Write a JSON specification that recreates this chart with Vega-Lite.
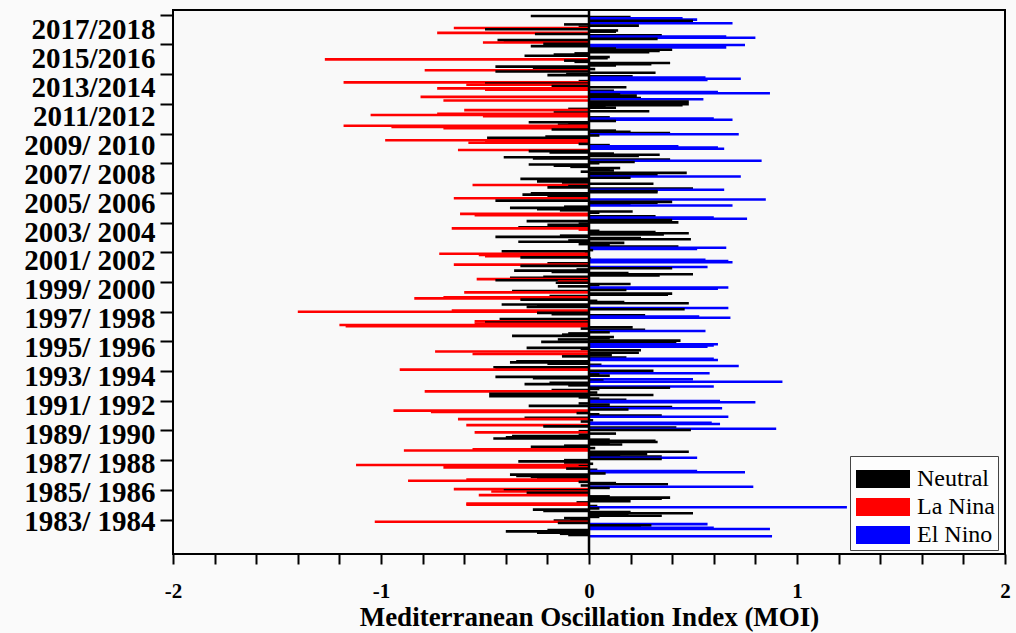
{
"$schema": "https://vega.github.io/schema/vega-lite/v6.json",
"width": 832, "height": 544,
"autosize": {"type": "none"},
"padding": {"left": 173, "top": 10, "right": 11, "bottom": 79},
"background": "#fafafa",
"config": {"view": {"stroke": "black", "strokeWidth": 2, "fill": "#f9f9f9"}, "font": "Liberation Serif"},
"data": {"values": [
{"i":431,"v":-0.28,"c":"Neutral"},{"i":430,"v":0.2,"c":"Neutral"},{"i":429,"v":0.45,"c":"El Nino"},{"i":428,"v":0.52,"c":"El Nino"},{"i":427,"v":0.5,"c":"Neutral"},{"i":426,"v":0.1,"c":"Neutral"},{"i":425,"v":0.69,"c":"El Nino"},{"i":424,"v":-0.12,"c":"Neutral"},{"i":423,"v":0.24,"c":"Neutral"},{"i":422,"v":-0.05,"c":"Neutral"},
{"i":421,"v":-0.65,"c":"La Nina"},{"i":420,"v":-0.5,"c":"Neutral"},{"i":419,"v":0.14,"c":"Neutral"},{"i":418,"v":0.13,"c":"Neutral"},{"i":417,"v":-0.73,"c":"La Nina"},{"i":416,"v":-0.26,"c":"Neutral"},{"i":415,"v":0.35,"c":"Neutral"},{"i":414,"v":0.66,"c":"El Nino"},{"i":413,"v":0.8,"c":"El Nino"},{"i":412,"v":0.33,"c":"Neutral"},
{"i":411,"v":-0.44,"c":"Neutral"},{"i":410,"v":-0.41,"c":"Neutral"},{"i":409,"v":-0.51,"c":"La Nina"},{"i":408,"v":-0.22,"c":"Neutral"},{"i":407,"v":0.75,"c":"El Nino"},{"i":406,"v":-0.28,"c":"Neutral"},{"i":405,"v":0.66,"c":"El Nino"},{"i":404,"v":0.13,"c":"Neutral"},{"i":403,"v":0.4,"c":"Neutral"},{"i":402,"v":0.34,"c":"Neutral"},
{"i":401,"v":0.29,"c":"Neutral"},{"i":400,"v":-0.07,"c":"Neutral"},{"i":399,"v":-0.17,"c":"Neutral"},{"i":398,"v":-0.31,"c":"Neutral"},{"i":397,"v":0.1,"c":"Neutral"},{"i":396,"v":0.09,"c":"Neutral"},{"i":395,"v":-1.27,"c":"La Nina"},{"i":394,"v":-0.12,"c":"Neutral"},{"i":393,"v":-0.07,"c":"Neutral"},{"i":392,"v":0.39,"c":"Neutral"},
{"i":391,"v":0.3,"c":"Neutral"},{"i":390,"v":0.13,"c":"Neutral"},{"i":389,"v":-0.45,"c":"Neutral"},{"i":388,"v":-0.27,"c":"Neutral"},{"i":387,"v":0.03,"c":"Neutral"},{"i":386,"v":-0.79,"c":"La Nina"},{"i":385,"v":-0.45,"c":"Neutral"},{"i":384,"v":0.32,"c":"Neutral"},{"i":383,"v":-0.11,"c":"Neutral"},{"i":382,"v":-0.2,"c":"Neutral"},
{"i":381,"v":0.21,"c":"Neutral"},{"i":380,"v":0.56,"c":"El Nino"},{"i":379,"v":0.73,"c":"El Nino"},{"i":378,"v":0.57,"c":"El Nino"},{"i":377,"v":-0.05,"c":"Neutral"},{"i":376,"v":-1.18,"c":"La Nina"},{"i":375,"v":-0.5,"c":"Neutral"},{"i":374,"v":-0.59,"c":"La Nina"},{"i":373,"v":-0.18,"c":"Neutral"},{"i":372,"v":0.18,"c":"Neutral"},
{"i":371,"v":-0.73,"c":"La Nina"},{"i":370,"v":-0.5,"c":"La Nina"},{"i":369,"v":0.12,"c":"Neutral"},{"i":368,"v":0.62,"c":"El Nino"},{"i":367,"v":0.87,"c":"El Nino"},{"i":366,"v":0.15,"c":"Neutral"},{"i":365,"v":0.23,"c":"Neutral"},{"i":364,"v":-0.81,"c":"La Nina"},{"i":363,"v":0.25,"c":"Neutral"},{"i":362,"v":0.55,"c":"El Nino"},
{"i":361,"v":-0.7,"c":"La Nina"},{"i":360,"v":0.48,"c":"Neutral"},{"i":359,"v":0.22,"c":"Neutral"},
{"i":358,"v":0.48,"c":"Neutral"},{"i":357,"v":0.45,"c":"Neutral"},{"i":356,"v":0.08,"c":"Neutral"},{"i":355,"v":0.13,"c":"Neutral"},{"i":354,"v":-0.1,"c":"Neutral"},{"i":353,"v":-0.6,"c":"La Nina"},{"i":352,"v":0.29,"c":"Neutral"},{"i":351,"v":-0.17,"c":"Neutral"},{"i":350,"v":-0.73,"c":"La Nina"},{"i":349,"v":-1.05,"c":"La Nina"},
{"i":348,"v":-0.51,"c":"La Nina"},{"i":347,"v":0.1,"c":"Neutral"},{"i":346,"v":0.6,"c":"El Nino"},{"i":345,"v":0.69,"c":"El Nino"},{"i":344,"v":0.13,"c":"Neutral"},{"i":343,"v":-0.29,"c":"Neutral"},{"i":342,"v":-0.1,"c":"Neutral"},{"i":341,"v":-0.15,"c":"Neutral"},{"i":340,"v":-1.18,"c":"La Nina"},{"i":339,"v":-0.95,"c":"La Nina"},
{"i":338,"v":-0.7,"c":"La Nina"},{"i":337,"v":-0.18,"c":"Neutral"},{"i":336,"v":0.13,"c":"Neutral"},{"i":335,"v":0.2,"c":"Neutral"},{"i":334,"v":0.39,"c":"Neutral"},{"i":333,"v":0.72,"c":"El Nino"},{"i":332,"v":0.05,"c":"Neutral"},{"i":331,"v":-0.21,"c":"Neutral"},{"i":330,"v":-0.49,"c":"Neutral"},{"i":329,"v":-0.36,"c":"Neutral"},
{"i":328,"v":-0.98,"c":"La Nina"},{"i":327,"v":-0.5,"c":"La Nina"},{"i":326,"v":-0.58,"c":"La Nina"},{"i":325,"v":-0.05,"c":"Neutral"},{"i":324,"v":0.1,"c":"Neutral"},{"i":323,"v":0.43,"c":"El Nino"},{"i":322,"v":0.62,"c":"El Nino"},{"i":321,"v":0.65,"c":"El Nino"},{"i":320,"v":-0.63,"c":"La Nina"},{"i":319,"v":-0.29,"c":"Neutral"},
{"i":318,"v":-0.19,"c":"Neutral"},{"i":317,"v":0.12,"c":"Neutral"},{"i":316,"v":0.34,"c":"Neutral"},{"i":315,"v":0.24,"c":"Neutral"},{"i":314,"v":-0.41,"c":"Neutral"},{"i":313,"v":-0.27,"c":"Neutral"},{"i":312,"v":0.39,"c":"Neutral"},{"i":311,"v":0.83,"c":"El Nino"},{"i":310,"v":0.22,"c":"Neutral"},{"i":309,"v":0.05,"c":"Neutral"},
{"i":308,"v":-0.29,"c":"Neutral"},{"i":307,"v":-0.17,"c":"Neutral"},{"i":306,"v":-0.09,"c":"Neutral"},{"i":305,"v":0.15,"c":"Neutral"},{"i":304,"v":0.1,"c":"Neutral"},{"i":303,"v":0.12,"c":"Neutral"},{"i":302,"v":-0.04,"c":"Neutral"},{"i":301,"v":0.47,"c":"Neutral"},{"i":300,"v":0.2,"c":"Neutral"},{"i":299,"v":0.33,"c":"Neutral"},
{"i":298,"v":0.73,"c":"El Nino"},{"i":297,"v":0.2,"c":"Neutral"},{"i":296,"v":-0.33,"c":"Neutral"},{"i":295,"v":-0.21,"c":"Neutral"},{"i":294,"v":-0.25,"c":"Neutral"},{"i":293,"v":-0.13,"c":"Neutral"},{"i":292,"v":0.31,"c":"Neutral"},{"i":291,"v":-0.56,"c":"La Nina"},{"i":290,"v":-0.1,"c":"Neutral"},{"i":289,"v":-0.2,"c":"Neutral"},
{"i":288,"v":0.5,"c":"Neutral"},{"i":287,"v":0.65,"c":"El Nino"},{"i":286,"v":0.33,"c":"Neutral"},
{"i":285,"v":0.33,"c":"Neutral"},{"i":284,"v":-0.28,"c":"Neutral"},{"i":283,"v":-0.32,"c":"Neutral"},{"i":282,"v":-0.2,"c":"Neutral"},{"i":281,"v":-0.1,"c":"Neutral"},{"i":280,"v":-0.65,"c":"La Nina"},{"i":279,"v":0.85,"c":"El Nino"},{"i":278,"v":-0.45,"c":"Neutral"},{"i":277,"v":0.4,"c":"Neutral"},{"i":276,"v":0.33,"c":"Neutral"},
{"i":275,"v":0.2,"c":"Neutral"},{"i":274,"v":0.69,"c":"El Nino"},{"i":273,"v":-0.12,"c":"Neutral"},{"i":272,"v":-0.38,"c":"Neutral"},{"i":271,"v":-0.25,"c":"Neutral"},{"i":270,"v":-0.14,"c":"Neutral"},{"i":269,"v":0.21,"c":"Neutral"},{"i":268,"v":0.05,"c":"Neutral"},{"i":267,"v":-0.62,"c":"La Nina"},{"i":266,"v":-0.55,"c":"La Nina"},
{"i":265,"v":0.32,"c":"Neutral"},{"i":264,"v":0.6,"c":"El Nino"},{"i":263,"v":0.76,"c":"El Nino"},{"i":262,"v":0.4,"c":"Neutral"},{"i":261,"v":-0.3,"c":"Neutral"},{"i":260,"v":0.43,"c":"Neutral"},{"i":259,"v":-0.05,"c":"Neutral"},{"i":258,"v":-0.2,"c":"Neutral"},{"i":257,"v":-0.11,"c":"Neutral"},{"i":256,"v":-0.34,"c":"Neutral"},
{"i":255,"v":-0.66,"c":"La Nina"},{"i":254,"v":-0.05,"c":"La Nina"},{"i":253,"v":0.05,"c":"Neutral"},{"i":252,"v":0.32,"c":"Neutral"},{"i":251,"v":0.48,"c":"Neutral"},{"i":250,"v":0.36,"c":"Neutral"},{"i":249,"v":-0.14,"c":"Neutral"},{"i":248,"v":-0.45,"c":"Neutral"},{"i":247,"v":0.25,"c":"Neutral"},{"i":246,"v":0.49,"c":"Neutral"},
{"i":245,"v":-0.1,"c":"Neutral"},{"i":244,"v":-0.34,"c":"Neutral"},{"i":243,"v":0.17,"c":"Neutral"},{"i":242,"v":-0.05,"c":"Neutral"},{"i":241,"v":0.1,"c":"Neutral"},{"i":240,"v":0.43,"c":"Neutral"},{"i":239,"v":0.66,"c":"El Nino"},{"i":238,"v":0.52,"c":"El Nino"},{"i":237,"v":0.02,"c":"Neutral"},{"i":236,"v":-0.42,"c":"Neutral"},
{"i":235,"v":-0.02,"c":"Neutral"},{"i":234,"v":-0.72,"c":"La Nina"},{"i":233,"v":-0.53,"c":"La Nina"},{"i":232,"v":-0.5,"c":"La Nina"},{"i":231,"v":-0.33,"c":"Neutral"},{"i":230,"v":0.01,"c":"Neutral"},{"i":229,"v":0.56,"c":"El Nino"},{"i":228,"v":0.67,"c":"El Nino"},{"i":227,"v":0.69,"c":"El Nino"},{"i":226,"v":-0.2,"c":"Neutral"},
{"i":225,"v":-0.65,"c":"La Nina"},{"i":224,"v":-0.33,"c":"Neutral"},{"i":223,"v":0.57,"c":"El Nino"},{"i":222,"v":0.4,"c":"Neutral"},{"i":221,"v":-0.06,"c":"Neutral"},{"i":220,"v":-0.36,"c":"Neutral"},{"i":219,"v":-0.18,"c":"Neutral"},{"i":218,"v":0.19,"c":"Neutral"},{"i":217,"v":0.5,"c":"Neutral"},{"i":216,"v":0.34,"c":"Neutral"},
{"i":215,"v":-0.22,"c":"Neutral"},{"i":214,"v":-0.38,"c":"Neutral"},{"i":213,"v":-0.54,"c":"La Nina"},
{"i":212,"v":-0.45,"c":"Neutral"},{"i":211,"v":-0.15,"c":"La Nina"},{"i":210,"v":-0.16,"c":"Neutral"},{"i":209,"v":0.2,"c":"Neutral"},{"i":208,"v":0.05,"c":"Neutral"},{"i":207,"v":-0.15,"c":"Neutral"},{"i":206,"v":0.67,"c":"El Nino"},{"i":205,"v":0.62,"c":"El Nino"},{"i":204,"v":0.18,"c":"Neutral"},{"i":203,"v":-0.37,"c":"Neutral"},
{"i":202,"v":-0.6,"c":"La Nina"},{"i":201,"v":0.4,"c":"Neutral"},{"i":200,"v":0.38,"c":"Neutral"},{"i":199,"v":-0.19,"c":"Neutral"},{"i":198,"v":-0.7,"c":"La Nina"},{"i":197,"v":-0.84,"c":"La Nina"},{"i":196,"v":-0.33,"c":"Neutral"},{"i":195,"v":0.04,"c":"Neutral"},{"i":194,"v":0.17,"c":"Neutral"},{"i":193,"v":0.48,"c":"Neutral"},
{"i":192,"v":-0.42,"c":"Neutral"},{"i":191,"v":-0.25,"c":"Neutral"},{"i":190,"v":-0.3,"c":"Neutral"},{"i":189,"v":0.67,"c":"El Nino"},{"i":188,"v":0.46,"c":"Neutral"},{"i":187,"v":-0.66,"c":"La Nina"},{"i":186,"v":-1.4,"c":"La Nina"},{"i":185,"v":-0.25,"c":"Neutral"},{"i":184,"v":-0.18,"c":"Neutral"},{"i":183,"v":0.27,"c":"Neutral"},
{"i":182,"v":0.53,"c":"El Nino"},{"i":181,"v":0.68,"c":"El Nino"},{"i":180,"v":-0.43,"c":"Neutral"},{"i":179,"v":-0.06,"c":"Neutral"},{"i":178,"v":-0.55,"c":"La Nina"},{"i":177,"v":-0.5,"c":"Neutral"},{"i":176,"v":-0.55,"c":"La Nina"},{"i":175,"v":-1.2,"c":"La Nina"},{"i":174,"v":-1.17,"c":"La Nina"},{"i":173,"v":0.21,"c":"Neutral"},
{"i":172,"v":-0.04,"c":"Neutral"},{"i":171,"v":0.27,"c":"Neutral"},{"i":170,"v":0.56,"c":"El Nino"},{"i":169,"v":0.1,"c":"Neutral"},{"i":168,"v":-0.1,"c":"Neutral"},{"i":167,"v":-0.13,"c":"Neutral"},{"i":166,"v":-0.37,"c":"Neutral"},{"i":165,"v":0.12,"c":"Neutral"},{"i":164,"v":0.1,"c":"Neutral"},{"i":163,"v":-0.15,"c":"Neutral"},
{"i":162,"v":0.44,"c":"Neutral"},{"i":161,"v":-0.23,"c":"Neutral"},{"i":160,"v":0.42,"c":"Neutral"},{"i":159,"v":0.62,"c":"El Nino"},{"i":158,"v":0.6,"c":"El Nino"},{"i":157,"v":0.57,"c":"El Nino"},{"i":156,"v":-0.3,"c":"Neutral"},{"i":155,"v":-0.04,"c":"Neutral"},{"i":154,"v":0.25,"c":"Neutral"},{"i":153,"v":-0.74,"c":"La Nina"},
{"i":152,"v":0.24,"c":"Neutral"},{"i":151,"v":-0.56,"c":"La Nina"},{"i":150,"v":0.11,"c":"Neutral"},{"i":149,"v":-0.13,"c":"Neutral"},{"i":148,"v":0.18,"c":"Neutral"},{"i":147,"v":0.6,"c":"El Nino"},{"i":146,"v":0.62,"c":"El Nino"},{"i":145,"v":-0.35,"c":"Neutral"},{"i":144,"v":-0.38,"c":"Neutral"},{"i":143,"v":-0.2,"c":"Neutral"},
{"i":142,"v":0.06,"c":"Neutral"},{"i":141,"v":0.72,"c":"El Nino"},{"i":140,"v":-0.46,"c":"Neutral"},
{"i":139,"v":-0.45,"c":"Neutral"},{"i":138,"v":-0.91,"c":"La Nina"},{"i":137,"v":0.31,"c":"Neutral"},{"i":136,"v":0.25,"c":"Neutral"},{"i":135,"v":0.58,"c":"El Nino"},{"i":134,"v":0.05,"c":"Neutral"},{"i":133,"v":0.1,"c":"Neutral"},{"i":132,"v":-0.45,"c":"Neutral"},{"i":131,"v":-0.27,"c":"Neutral"},{"i":130,"v":0.5,"c":"El Nino"},
{"i":129,"v":0.07,"c":"Neutral"},{"i":128,"v":0.93,"c":"El Nino"},{"i":127,"v":-0.19,"c":"Neutral"},{"i":126,"v":-0.31,"c":"Neutral"},{"i":125,"v":-0.1,"c":"Neutral"},{"i":124,"v":0.6,"c":"El Nino"},{"i":123,"v":0.39,"c":"Neutral"},{"i":122,"v":0.05,"c":"Neutral"},{"i":121,"v":-0.18,"c":"Neutral"},{"i":120,"v":-0.79,"c":"La Nina"},
{"i":119,"v":0.04,"c":"Neutral"},{"i":118,"v":-0.48,"c":"Neutral"},{"i":117,"v":0.31,"c":"Neutral"},{"i":116,"v":-0.48,"c":"Neutral"},{"i":115,"v":-0.05,"c":"Neutral"},{"i":114,"v":0.05,"c":"Neutral"},{"i":113,"v":0.18,"c":"Neutral"},{"i":112,"v":0.63,"c":"El Nino"},{"i":111,"v":0.8,"c":"El Nino"},{"i":110,"v":-0.05,"c":"Neutral"},
{"i":109,"v":0.1,"c":"Neutral"},{"i":108,"v":-0.29,"c":"Neutral"},{"i":107,"v":0.4,"c":"Neutral"},{"i":106,"v":0.64,"c":"El Nino"},{"i":105,"v":0.19,"c":"Neutral"},{"i":104,"v":-0.94,"c":"La Nina"},{"i":103,"v":-0.76,"c":"La Nina"},{"i":102,"v":-0.06,"c":"Neutral"},{"i":101,"v":0.05,"c":"Neutral"},{"i":100,"v":0.35,"c":"Neutral"},
{"i":99,"v":0.67,"c":"El Nino"},{"i":98,"v":-0.31,"c":"Neutral"},{"i":97,"v":-0.63,"c":"La Nina"},{"i":96,"v":0.02,"c":"Neutral"},{"i":95,"v":-0.04,"c":"Neutral"},{"i":94,"v":0.59,"c":"El Nino"},{"i":93,"v":0.63,"c":"El Nino"},{"i":92,"v":-0.59,"c":"La Nina"},{"i":91,"v":-0.22,"c":"Neutral"},{"i":90,"v":0.42,"c":"Neutral"},
{"i":89,"v":0.9,"c":"El Nino"},{"i":88,"v":0.49,"c":"Neutral"},{"i":87,"v":-0.05,"c":"Neutral"},{"i":86,"v":-0.55,"c":"La Nina"},{"i":85,"v":0.13,"c":"Neutral"},{"i":84,"v":-0.05,"c":"Neutral"},{"i":83,"v":-0.37,"c":"Neutral"},{"i":82,"v":-0.4,"c":"Neutral"},{"i":81,"v":-0.46,"c":"Neutral"},{"i":80,"v":0.1,"c":"Neutral"},
{"i":79,"v":0.32,"c":"Neutral"},{"i":78,"v":0.33,"c":"Neutral"},{"i":77,"v":0.1,"c":"Neutral"},{"i":76,"v":0.16,"c":"Neutral"},{"i":75,"v":-0.12,"c":"Neutral"},{"i":74,"v":-0.28,"c":"Neutral"},{"i":73,"v":0.03,"c":"Neutral"},{"i":72,"v":-0.56,"c":"La Nina"},{"i":71,"v":-0.89,"c":"La Nina"},{"i":70,"v":0.48,"c":"Neutral"},
{"i":69,"v":0.1,"c":"Neutral"},{"i":68,"v":0.28,"c":"Neutral"},{"i":67,"v":0.15,"c":"Neutral"},{"i":66,"v":0.35,"c":"Neutral"},
{"i":65,"v":0.52,"c":"El Nino"},{"i":64,"v":0.35,"c":"Neutral"},{"i":63,"v":-0.12,"c":"Neutral"},{"i":62,"v":-0.34,"c":"Neutral"},{"i":61,"v":-0.12,"c":"Neutral"},{"i":60,"v":0.02,"c":"Neutral"},{"i":59,"v":-1.12,"c":"La Nina"},{"i":58,"v":-0.05,"c":"Neutral"},{"i":57,"v":-0.7,"c":"La Nina"},{"i":56,"v":-0.11,"c":"Neutral"},
{"i":55,"v":0.04,"c":"Neutral"},{"i":54,"v":0.52,"c":"El Nino"},{"i":53,"v":0.75,"c":"El Nino"},{"i":52,"v":0.08,"c":"Neutral"},{"i":51,"v":-0.38,"c":"Neutral"},{"i":50,"v":-0.35,"c":"Neutral"},{"i":49,"v":-0.28,"c":"Neutral"},{"i":48,"v":-0.25,"c":"Neutral"},{"i":47,"v":-0.59,"c":"La Nina"},{"i":46,"v":-0.87,"c":"La Nina"},
{"i":45,"v":-0.05,"c":"Neutral"},{"i":44,"v":0.13,"c":"Neutral"},{"i":43,"v":0.38,"c":"Neutral"},{"i":42,"v":-0.04,"c":"Neutral"},{"i":41,"v":0.79,"c":"El Nino"},{"i":40,"v":0.1,"c":"Neutral"},{"i":39,"v":-0.65,"c":"La Nina"},{"i":38,"v":-0.41,"c":"Neutral"},{"i":37,"v":-0.47,"c":"La Nina"},{"i":36,"v":-0.3,"c":"Neutral"},
{"i":35,"v":-0.2,"c":"Neutral"},{"i":34,"v":-0.53,"c":"La Nina"},{"i":33,"v":0.1,"c":"Neutral"},{"i":32,"v":0.39,"c":"Neutral"},{"i":31,"v":0.35,"c":"Neutral"},{"i":30,"v":0.15,"c":"Neutral"},{"i":29,"v":0.2,"c":"Neutral"},{"i":28,"v":-0.06,"c":"Neutral"},{"i":27,"v":-0.59,"c":"La Nina"},{"i":26,"v":-0.59,"c":"La Nina"},
{"i":25,"v":0.04,"c":"Neutral"},{"i":24,"v":1.24,"c":"El Nino"},{"i":23,"v":0.05,"c":"Neutral"},{"i":22,"v":-0.27,"c":"Neutral"},{"i":21,"v":-0.22,"c":"Neutral"},{"i":20,"v":0.2,"c":"Neutral"},{"i":19,"v":0.5,"c":"Neutral"},{"i":18,"v":0.19,"c":"Neutral"},{"i":17,"v":0.35,"c":"Neutral"},{"i":16,"v":0.05,"c":"Neutral"},
{"i":15,"v":-0.12,"c":"Neutral"},{"i":14,"v":-0.09,"c":"Neutral"},{"i":13,"v":-0.17,"c":"Neutral"},{"i":12,"v":-1.03,"c":"La Nina"},{"i":11,"v":-0.15,"c":"Neutral"},{"i":10,"v":0.57,"c":"El Nino"},{"i":9,"v":0.3,"c":"Neutral"},{"i":8,"v":0.25,"c":"Neutral"},{"i":7,"v":0.6,"c":"El Nino"},{"i":6,"v":0.87,"c":"El Nino"},
{"i":5,"v":-0.2,"c":"Neutral"},{"i":4,"v":-0.4,"c":"Neutral"},{"i":3,"v":-0.25,"c":"Neutral"},{"i":2,"v":-0.14,"c":"Neutral"},{"i":1,"v":-0.1,"c":"Neutral"},{"i":0,"v":0.88,"c":"El Nino"}
]},
"resolve": {"axis": {"y": "independent"}},
"layer": [
{
"mark": {"type": "bar", "orient": "horizontal", "size": 2.6},
"encoding": {
"y": {"field": "i", "type": "quantitative",
 "scale": {"domain": [-10.6, 431.8], "nice": false, "zero": false},
 "axis": {
  "orient": "left",
  "values": [13.8, 38.4, 63.0, 87.6, 112.2, 136.8, 161.4, 186.0, 210.6, 235.2, 259.8, 284.4, 309.0, 333.6, 358.2, 382.8, 407.4, 431.8],
  "title": null, "grid": false, "domain": false, "labels": false,
  "tickSize": 13, "tickWidth": 2, "tickColor": "black"
 }},
"x": {"field": "v", "type": "quantitative",
 "scale": {"domain": [-2, 2], "nice": false},
 "axis": {
  "values": [-2,-1.8,-1.6,-1.4,-1.2,-1,-0.8,-0.6,-0.4,-0.2,0,0.2,0.4,0.6,0.8,1,1.2,1.4,1.6,1.8,2],
  "title": "Mediterranean Oscillation Index (MOI)", "grid": false, "domain": false,
  "tickSize": 10, "tickWidth": 2, "tickColor": "black",
  "labelExpr": "abs(datum.value - round(datum.value)) < 0.001 ? '' + round(datum.value) : ''",
  "labelFont": "Liberation Serif", "labelFontSize": 21, "labelFontWeight": "bold", "labelColor": "black", "labelPadding": 16,
  "labelFlush": false, "labelOverlap": false,
  "titleFont": "Liberation Serif", "titleFontSize": 27, "titleFontWeight": "bold", "titleColor": "black", "titlePadding": 3
 }},
"color": {"field": "c", "type": "nominal",
 "scale": {"domain": ["Neutral", "La Nina", "El Nino"], "range": ["#000000", "#ff0000", "#0000ff"]},
 "legend": {"orient": "none", "legendX": 677, "legendY": 446, "title": " ", "titleFontSize": 5, "titlePadding": 3, "padding": 3,
  "symbolType": "M-1,-1H5V1H-1Z", "symbolSize": 324, "symbolStrokeWidth": 0, "symbolOpacity": 1,
  "labelFont": "Liberation Serif", "labelFontSize": 24, "labelOffset": 40, "labelColor": "black", "rowPadding": 4,
  "strokeColor": "#444", "fillColor": "#fdfdfd", "labelExpr": "datum.label + '    '"}
}
}
},
{
"data": {"values": [{"z": 0}]},
"mark": {"type": "rule", "color": "black", "strokeWidth": 2.5},
"encoding": {"x": {"field": "z", "type": "quantitative"}}
},
{
"data": {"values": [{"i": 12, "v": 0}]},
"mark": {"type": "point", "opacity": 0, "size": 0},
"encoding": {
"x": {"field": "v", "type": "quantitative"},
"y": {"field": "i", "type": "quantitative",
 "axis": {
  "orient": "left",
  "values": [12, 36, 60, 84, 108, 132, 156, 180, 204, 228, 252, 276, 300, 324, 348, 372, 396, 420],
  "title": null, "grid": false, "domain": false, "ticks": false,
  "labelPadding": 18, "labelFont": "Liberation Serif", "labelFontWeight": "bold", "labelFontSize": 29, "labelColor": "black",
  "labelOverlap": false, "labelBound": false, "labelFlush": false, "labelBaseline": "middle",
  "labelExpr": "(1983+2*round((datum.value-12)/24)) + ((1983+2*round((datum.value-12)/24)) <= 2009 ? '/ ' : '/') + (1984+2*round((datum.value-12)/24))"
 }}
}
}
]
}
